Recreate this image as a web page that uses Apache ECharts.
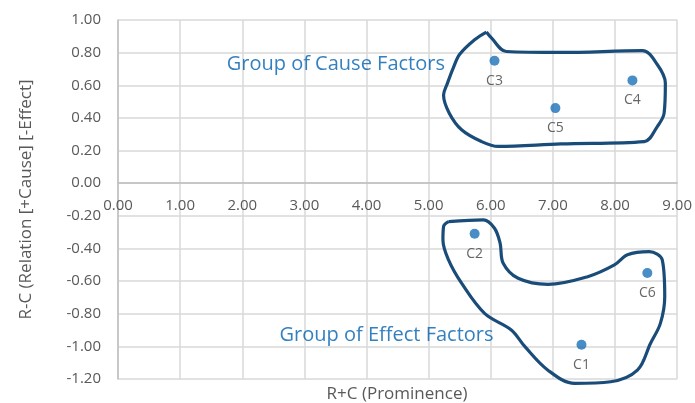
<!DOCTYPE html>
<html>
<head>
<meta charset="utf-8">
<script src="https://cdn.jsdelivr.net/npm/echarts@6/dist/echarts.min.js"></script>
<style>html,body{margin:0;padding:0;background:#fff}#c{width:695px;height:403px}</style>
</head>
<body>
<div id="c"></div>
<script>
// Factor names
var factorNames = ['C1', 'C2', 'C3', 'C4', 'C5', 'C6'];
// R+C (Prominence)
var prominence = [7.46, 5.74, 6.06, 8.28, 7.04, 8.52];
// R-C (Relation)
var relation = [-0.99, -0.31, 0.75, 0.63, 0.46, -0.55];
// Hand-drawn group outlines (data coordinates)
var causeOutline = [[5.93,0.926],[6.01,0.89],[6.25,0.807],[7.13,0.801],[8.44,0.812],[8.68,0.727],[8.81,0.613],[8.79,0.429],[8.68,0.347],[8.47,0.255],[7.13,0.241],[6.12,0.225],[5.85,0.255],[5.53,0.327],[5.33,0.43],[5.24,0.54],[5.30,0.61],[5.40,0.71],[5.50,0.79],[5.74,0.879],[5.93,0.926]];
var effectOutline = [[5.32,-0.236],[5.88,-0.225],[6.06,-0.276],[6.15,-0.368],[6.20,-0.491],[6.44,-0.583],[6.92,-0.620],[7.56,-0.573],[7.99,-0.501],[8.20,-0.439],[8.55,-0.420],[8.76,-0.470],[8.80,-0.696],[8.73,-0.859],[8.57,-0.982],[8.36,-1.146],[7.93,-1.217],[7.35,-1.227],[6.92,-1.146],[6.55,-1.002],[6.33,-0.900],[5.90,-0.798],[5.53,-0.613],[5.32,-0.470],[5.23,-0.348],[5.24,-0.266],[5.32,-0.236]];
var groupLabels = ['Group of Cause Factors', 'Group of Effect Factors'];
var groupLabelPos = [[1.75, 0.73], [2.6, -0.93]];

var pts = factorNames.map(function(n, i){ return {name: n, value: [prominence[i], relation[i]]}; });
var font = 'Open Sans';
var chart = echarts.init(document.getElementById('c'));
chart.setOption({
  animation: false,
  grid: {left: 118, right: 15, top: 20, bottom: 24, containLabel: false},
  xAxis: {
    type: 'value', min: 0, max: 9, interval: 1, position: 'bottom', offset: -196,
    axisLine: {onZero: false, lineStyle: {color: '#bfbfbf', width: 1.5}},
    axisTick: {show: false},
    axisLabel: {formatter: function(v){return v.toFixed(2);}, color: '#595959', fontFamily: font, fontSize: 15, margin: 15},
    splitLine: {lineStyle: {color: '#d9d9d9', width: 1.5}}
  },
  yAxis: {
    type: 'value', min: -1.2, max: 1.0, interval: 0.2,
    name: 'R-C (Relation [+Cause] [-Effect]', nameLocation: 'middle', nameGap: 83,
    nameTextStyle: {color: '#595959', fontFamily: font, fontSize: 17},
    axisLine: {show: true, lineStyle: {color: '#bfbfbf', width: 1.5}},
    axisTick: {show: false},
    axisLabel: {formatter: function(v){return v.toFixed(2);}, color: '#595959', fontFamily: font, fontSize: 15, margin: 17},
    splitLine: {lineStyle: {color: '#d9d9d9', width: 1.5}}
  },
  graphic: [
    {type: 'text', x: 397, y: 394, style: {text: 'R+C (Prominence)', fill: '#595959', font: '17px "Open Sans"', align: 'center', verticalAlign: 'middle'}}
  ],
  series: [
    {type: 'line', data: causeOutline, smooth: 0.35, symbol: 'none', clip: false, silent: true,
     lineStyle: {color: '#1a4c79', width: 3.2}, z: 3},
    {type: 'line', data: effectOutline, smooth: 0.35, symbol: 'none', clip: false, silent: true,
     lineStyle: {color: '#1a4c79', width: 3.2}, z: 3},
    {type: 'scatter', data: pts, symbolSize: 10, itemStyle: {color: '#1a70b8'}, z: 4,
     label: {show: true, position: 'bottom', distance: 8, formatter: '{b}', color: '#404040', fontFamily: font, fontSize: 14}},
    {type: 'scatter', symbolSize: 0, silent: true, z: 5,
     data: groupLabels.map(function(t, i){ return {value: groupLabelPos[i], name: t}; }),
     label: {show: true, position: 'right', distance: 0, formatter: '{b}', color: '#0060b0', fontFamily: font, fontSize: 20}}
  ]
});
</script>
</body>
</html>
